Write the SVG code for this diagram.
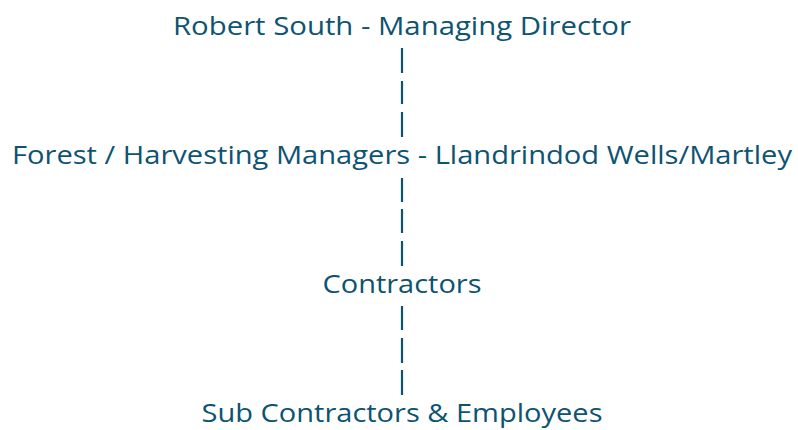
<svg xmlns="http://www.w3.org/2000/svg" width="798" height="430" viewBox="0 0 798 430">
  <style>
    .label { font-family: "Open Sans", "Noto Sans", sans-serif; font-size: 26px; fill: #0d5372; text-anchor: middle; }
    .link { stroke: #0d5372; stroke-width: 2.2; fill: none; }
  </style>
  <rect width="798" height="430" fill="#ffffff"/>

  <g id="connectors">
    <line class="link" x1="402" y1="48" x2="402" y2="73"/>
    <line class="link" x1="402" y1="81" x2="402" y2="104"/>
    <line class="link" x1="402" y1="112" x2="402" y2="137"/>
    <line class="link" x1="402" y1="178" x2="402" y2="202"/>
    <line class="link" x1="402" y1="209" x2="402" y2="233"/>
    <line class="link" x1="402" y1="241" x2="402" y2="266"/>
    <line class="link" x1="402" y1="306" x2="402" y2="330"/>
    <line class="link" x1="402" y1="338" x2="402" y2="363"/>
    <line class="link" x1="402" y1="370" x2="402" y2="395"/>
  </g>

  <g id="node-managing-director">
    <text class="label" x="402" y="35" textLength="458" lengthAdjust="spacingAndGlyphs">Robert South - Managing Director</text>
  </g>
  <g id="node-harvesting-managers">
    <text class="label" x="402" y="164" textLength="780" lengthAdjust="spacingAndGlyphs">Forest / Harvesting Managers - Llandrindod Wells/Martley</text>
  </g>
  <g id="node-contractors">
    <text class="label" x="402" y="293" textLength="159" lengthAdjust="spacingAndGlyphs">Contractors</text>
  </g>
  <g id="node-sub-contractors">
    <text class="label" x="402" y="422" textLength="401" lengthAdjust="spacingAndGlyphs">Sub Contractors &amp; Employees</text>
  </g>
</svg>
